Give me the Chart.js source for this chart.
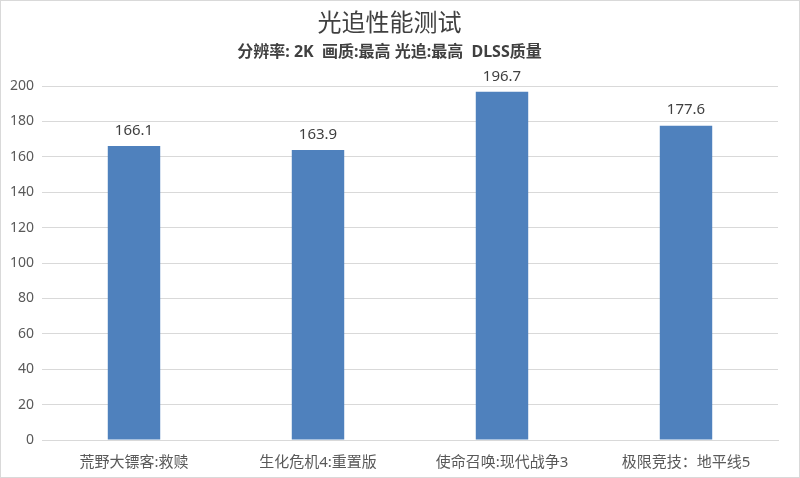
<!DOCTYPE html>
<html>
<head>
<meta charset="utf-8">
<script src="https://cdn.jsdelivr.net/npm/chart.js@4"></script>
<style>
  body { margin: 0; background: #fff; }
  #box { width: 800px; height: 478px; box-sizing: border-box; border: 1px solid #d9d9d9; }
</style>
</head>
<body>
<div id="box"><canvas id="myChart"></canvas></div>
<script>
const games = ['荒野大镖客:救赎', '生化危机4:重置版', '使命召唤:现代战争3', '极限竞技：地平线5'];
const fps = [166.1, 163.9, 196.7, 177.6];
const yTicks = [0, 20, 40, 60, 80, 100, 120, 140, 160, 180, 200];

const fontFamily = '"Noto Sans", "Noto Sans CJK SC", sans-serif';

// values above each bar
const barLabels = {
  id: 'barLabels',
  afterDatasetsDraw(chart) {
    const c = chart.ctx;
    const meta = chart.getDatasetMeta(0);
    c.save();
    c.font = '15px ' + fontFamily;
    c.fillStyle = '#404040';
    c.textAlign = 'center';
    c.textBaseline = 'bottom';
    meta.data.forEach((bar, i) => {
      c.fillText(fps[i].toFixed(1), bar.x, bar.y - 8);
    });
    c.restore();
  }
};

const ctx = document.getElementById('myChart');

new Chart(ctx, {
  type: 'bar',
  data: {
    labels: games,
    datasets: [{
      label: 'FPS',
      data: fps,
      backgroundColor: '#4f81bd',
      categoryPercentage: 1,
      barPercentage: 0.285
    }]
  },
  options: {
    responsive: true,
    maintainAspectRatio: false,
    animation: false,
    layout: { padding: { left: 0, right: 21, top: 0, bottom: 0 } },
    plugins: {
      legend: { display: false },
      tooltip: { enabled: false },
      title: {
        display: true,
        text: '光追性能测试',
        color: '#404040',
        font: { size: 24, family: fontFamily, weight: 'normal' },
        padding: { top: 9, bottom: 0 }
      },
      subtitle: {
        display: true,
        text: '分辨率: 2K  画质:最高 光追:最高  DLSS质量',
        color: '#404040',
        font: { size: 16, family: fontFamily, weight: 'bold' },
        padding: { top: 4, bottom: 24 }
      }
    },
    scales: {
      x: {
        grid: { display: false },
        border: { color: '#d9d9d9' },
        ticks: { color: '#595959', font: { size: 15, family: fontFamily }, padding: 6 },
        afterFit(scale) { scale.height = 37; }
      },
      y: {
        min: 0,
        max: 200,
        afterBuildTicks(scale) { scale.ticks = yTicks.map(v => ({ value: v })); },
        grid: { color: '#d9d9d9', drawTicks: false },
        border: { display: false },
        ticks: { color: '#595959', font: { size: 14, family: fontFamily }, padding: 8 },
        afterFit(scale) { scale.width = 41; }
      }
    }
  },
  plugins: [barLabels]
});
</script>
</body>
</html>
